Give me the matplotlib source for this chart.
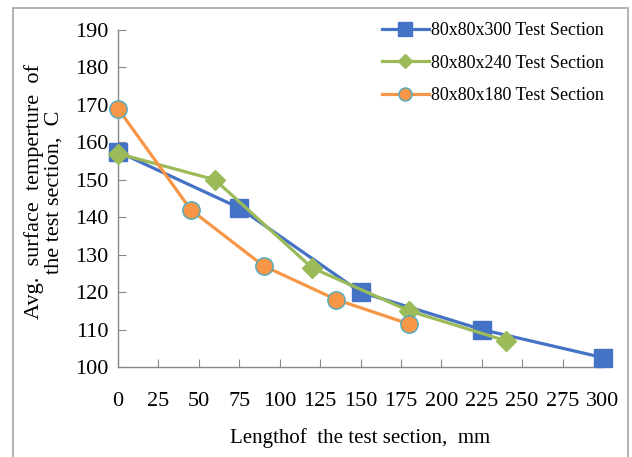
import matplotlib
matplotlib.use("Agg")
import matplotlib.pyplot as plt
from matplotlib.patches import Rectangle

x300 = [0, 75, 150, 225, 300]
y300 = [157.5, 142.5, 120, 110, 102.5]
x240 = [0, 60, 120, 180, 240]
y240 = [157, 150, 126.5, 115, 107]
x180 = [0, 45, 90, 135, 180]
y180 = [169, 142, 127, 118, 111.5]
labels = ["80x80x300 Test Section", "80x80x240 Test Section", "80x80x180 Test Section"]
xticks = list(range(0, 301, 25))
yticks = list(range(100, 191, 10))

plt.rcParams['font.family'] = ['Liberation Serif', 'DejaVu Serif']

fig = plt.figure(figsize=(6.32, 4.57), dpi=100)
ax = fig.add_axes([118/632, 1-367/457, (603-118)/632, (367-30)/457])

fig.patches.append(Rectangle((13/632, -0.05), (628-13)/632, 1.05 - 8/457,
                             transform=fig.transFigure, fill=False,
                             edgecolor='#A6A6A6', linewidth=1.2))

ax.plot(x300, y300, color='#4472C4', lw=2.3, marker='s', ms=12.5,
        mfc='#4472C4', mec='#4472C4', label=labels[0], clip_on=False, zorder=3)
ax.plot(x240, y240, color='#9BBB59', lw=2.3, marker='D', ms=10,
        mfc='#9BBB59', mec='#9BBB59', label=labels[1], clip_on=False, zorder=3)
ax.plot(x180, y180, color='#F79646', lw=2.3, marker='o', ms=12.5,
        mfc='#F79646', mec='#4BACC6', mew=1.0, label=labels[2], clip_on=False, zorder=3)

ax.set_xlim(0, 300)
ax.set_ylim(100, 190)
ax.set_xticks(xticks)
ax.set_yticks(yticks)
for s in ['top', 'right']:
    ax.spines[s].set_visible(False)
for s in ['left', 'bottom']:
    ax.spines[s].set_color('#888888')
    ax.spines[s].set_linewidth(1.0)
ax.tick_params(axis='both', direction='in', length=6, color='#888888',
               labelsize=16)
ax.tick_params(axis='x', pad=18)
ax.tick_params(axis='y', pad=7)

ax.set_xlabel("Lengthof  the test section,  mm", fontsize=15, labelpad=12)
ax.set_ylabel("Avg.  surface  temperture  of\nthe test section,  C", fontsize=16,
              linespacing=1.05)
ax.yaxis.set_label_coords(-0.112, 0.52)

leg = ax.legend(loc='upper right', bbox_to_anchor=(1.025, 1.055), frameon=False,
                fontsize=13, handlelength=2.6, markerscale=0.75,
                labelspacing=0.85, handletextpad=0.15, borderaxespad=0.2)

fig.savefig("out.png", dpi=100)
